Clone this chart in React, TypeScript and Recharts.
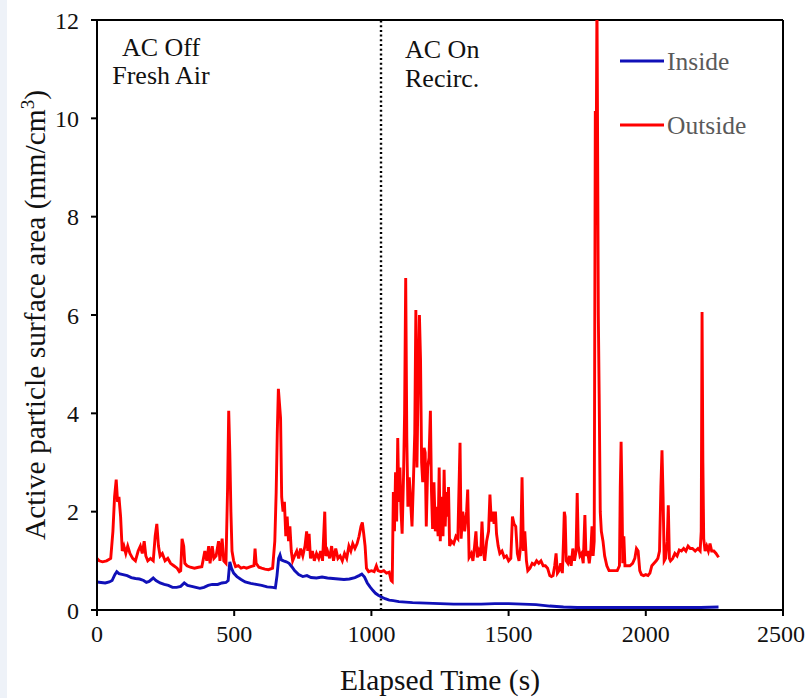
import { LineChart, Line, XAxis, YAxis, ReferenceLine, Legend, Label } from "recharts";

// [elapsed time (s), active surface area (mm/cm3)]
const outside: [number, number][] = [
  [0, 1.05], [8, 1.0], [20, 0.98], [35, 1.0], [50, 1.05], [58, 1.6], [64, 2.3], [70, 2.65], [75, 2.2], [80, 2.3],
  [86, 1.9], [92, 1.2], [98, 1.3], [105, 1.15], [112, 1.3], [120, 1.15], [130, 1.05], [140, 1.0], [150, 1.2], [158, 1.3],
  [165, 1.15], [172, 1.4], [178, 1.1], [185, 1.0], [195, 1.05], [205, 1.0], [212, 1.5], [218, 1.75], [224, 1.3], [230, 1.1],
  [238, 1.15], [248, 1.0], [258, 1.05], [268, 0.95], [280, 0.9], [292, 0.85], [300, 0.78], [305, 0.8], [310, 1.45], [316, 1.3],
  [320, 0.95], [328, 0.9], [340, 0.87], [355, 0.85], [370, 0.87], [382, 0.88], [388, 1.05], [393, 1.2], [400, 1.0], [407, 1.3],
  [412, 0.95], [420, 1.3], [426, 1.05], [434, 1.1], [443, 1.4], [448, 1.0], [456, 1.45], [462, 1.0], [470, 0.95], [476, 2.5],
  [480, 4.05], [484, 3.2], [488, 2.0], [492, 1.2], [498, 1.0], [505, 0.88], [515, 0.9], [525, 0.85], [535, 0.87], [545, 0.85],
  [560, 0.88], [572, 0.9], [576, 1.25], [580, 0.95], [590, 0.87], [600, 0.85], [612, 0.83], [625, 0.82], [640, 0.85], [648, 1.4],
  [653, 2.4], [657, 3.6], [661, 4.5], [665, 4.2], [669, 3.9], [673, 2.3], [678, 2.0], [683, 2.2], [688, 1.5], [693, 1.9],
  [698, 1.4], [703, 1.7], [708, 1.2], [713, 1.0], [720, 1.1], [728, 1.2], [735, 1.05], [742, 1.25], [750, 1.1], [758, 1.3],
  [764, 1.6], [768, 1.2], [773, 1.55], [778, 1.05], [785, 1.2], [792, 1.0], [800, 1.15], [808, 1.05], [815, 1.2], [822, 1.0],
  [830, 2.0], [834, 1.1], [840, 1.2], [848, 1.05], [855, 1.3], [862, 1.0], [870, 1.25], [878, 1.05], [886, 1.1], [894, 1.0],
  [902, 1.15], [910, 1.05], [918, 1.3], [925, 1.2], [932, 1.35], [940, 1.25], [948, 1.35], [955, 1.5], [962, 1.7], [967, 1.78],
  [972, 1.55], [977, 1.3], [982, 0.85], [990, 0.78], [1000, 0.8], [1010, 0.78], [1018, 0.9], [1024, 0.8], [1035, 0.78], [1045, 0.8],
  [1055, 0.75], [1065, 0.77], [1072, 0.6], [1076, 0.58], [1080, 2.4], [1084, 1.6], [1088, 2.8], [1092, 1.8], [1096, 3.5], [1100, 2.2],
  [1104, 2.9], [1108, 2.0], [1112, 1.55], [1117, 2.7], [1121, 4.0], [1125, 6.75], [1129, 3.5], [1133, 2.1], [1138, 2.7], [1143, 2.2],
  [1148, 1.7], [1153, 2.6], [1158, 3.6], [1162, 6.1], [1166, 2.9], [1170, 4.5], [1175, 6.0], [1179, 5.1], [1183, 3.0], [1187, 2.6],
  [1192, 3.3], [1196, 3.2], [1200, 1.7], [1205, 2.9], [1210, 3.1], [1215, 4.05], [1219, 2.4], [1223, 1.65], [1228, 2.6], [1233, 1.6],
  [1238, 2.1], [1243, 1.5], [1247, 2.9], [1251, 1.4], [1256, 2.3], [1261, 1.5], [1265, 2.85], [1269, 1.7], [1273, 2.4], [1277, 1.9],
  [1281, 2.5], [1285, 1.3], [1292, 1.4], [1300, 1.35], [1308, 1.5], [1315, 1.45], [1323, 3.4], [1327, 1.45], [1333, 2.0], [1340, 1.6],
  [1347, 2.0], [1351, 2.45], [1356, 1.07], [1364, 1.15], [1370, 1.0], [1376, 1.3], [1381, 1.6], [1386, 1.07], [1392, 1.2], [1398, 1.1],
  [1403, 1.8], [1408, 1.2], [1413, 1.0], [1420, 1.4], [1427, 1.6], [1432, 2.35], [1437, 1.8], [1442, 2.0], [1447, 1.75], [1452, 2.0],
  [1456, 1.55], [1462, 1.3], [1468, 1.15], [1476, 1.2], [1484, 1.07], [1492, 1.1], [1500, 1.0], [1508, 1.05], [1514, 1.9], [1520, 1.75],
  [1526, 1.7], [1532, 1.15], [1538, 1.0], [1544, 1.3], [1549, 2.7], [1554, 1.2], [1559, 1.6], [1565, 1.0], [1570, 0.8], [1578, 0.85],
  [1586, 0.95], [1594, 0.92], [1602, 1.0], [1610, 0.95], [1618, 1.0], [1626, 0.9], [1634, 0.9], [1642, 0.85], [1650, 0.7], [1656, 0.68],
  [1662, 0.7], [1668, 0.9], [1673, 1.15], [1678, 0.75], [1684, 0.8], [1690, 0.95], [1696, 0.75], [1700, 1.4], [1703, 2.0], [1706, 1.9],
  [1710, 1.0], [1716, 0.95], [1722, 1.1], [1728, 0.9], [1734, 1.25], [1740, 1.0], [1746, 1.2], [1750, 2.38], [1754, 1.3], [1760, 1.1],
  [1766, 1.15], [1772, 0.95], [1778, 1.93], [1782, 1.1], [1788, 1.2], [1794, 0.95], [1800, 1.25], [1804, 1.7], [1808, 1.1], [1812, 1.4],
  [1816, 10.15], [1820, 10.1], [1822, 12.4], [1824, 10.0], [1827, 6.0], [1830, 4.4], [1834, 2.0], [1838, 1.6], [1844, 1.4], [1850, 1.1],
  [1858, 0.9], [1866, 0.8], [1876, 0.8], [1886, 0.8], [1896, 0.8], [1904, 0.9], [1907, 2.5], [1910, 3.42], [1913, 2.4], [1916, 0.95],
  [1920, 1.5], [1924, 0.9], [1932, 0.9], [1942, 0.9], [1952, 0.95], [1960, 1.05], [1966, 1.25], [1972, 1.2], [1978, 0.8], [1984, 0.72],
  [1992, 0.7], [2000, 0.72], [2008, 0.7], [2015, 0.75], [2022, 0.9], [2030, 0.95], [2038, 1.0], [2044, 1.05], [2050, 1.2], [2055, 2.5],
  [2059, 3.25], [2063, 2.3], [2067, 1.0], [2072, 1.05], [2078, 1.4], [2082, 2.13], [2086, 1.05], [2090, 1.0], [2098, 1.05], [2106, 1.15],
  [2114, 1.1], [2122, 1.22], [2130, 1.2], [2138, 1.25], [2146, 1.2], [2154, 1.3], [2162, 1.25], [2170, 1.25], [2180, 1.2], [2190, 1.25],
  [2198, 1.2], [2202, 1.6], [2205, 6.06], [2208, 3.0], [2211, 1.45], [2216, 1.2], [2222, 1.3], [2228, 1.2], [2234, 1.35], [2240, 1.2],
  [2248, 1.2], [2256, 1.15], [2262, 1.1], [2265, 1.07],
];

const inside: [number, number][] = [
  [0, 0.57], [15, 0.56], [30, 0.55], [45, 0.57], [55, 0.6], [65, 0.72], [72, 0.78], [80, 0.74], [95, 0.72], [110, 0.7],
  [125, 0.66], [140, 0.64], [155, 0.63], [170, 0.6], [180, 0.56], [190, 0.58], [205, 0.65], [215, 0.6], [230, 0.55], [245, 0.52],
  [260, 0.5], [275, 0.46], [290, 0.46], [305, 0.48], [318, 0.55], [330, 0.5], [345, 0.48], [360, 0.46], [375, 0.44], [390, 0.46],
  [405, 0.5], [420, 0.52], [440, 0.52], [455, 0.55], [470, 0.56], [478, 0.6], [484, 0.98], [490, 0.85], [498, 0.75], [510, 0.68],
  [525, 0.62], [540, 0.57], [560, 0.54], [580, 0.52], [600, 0.5], [620, 0.47], [640, 0.46], [650, 0.45], [656, 0.7], [662, 1.05],
  [667, 1.12], [672, 1.02], [680, 1.0], [690, 0.98], [700, 0.95], [710, 0.88], [720, 0.8], [735, 0.72], [750, 0.68], [765, 0.7],
  [780, 0.66], [800, 0.65], [820, 0.67], [840, 0.65], [860, 0.64], [880, 0.63], [900, 0.62], [920, 0.63], [940, 0.66], [955, 0.7],
  [965, 0.73], [975, 0.67], [985, 0.55], [995, 0.47], [1005, 0.4], [1015, 0.34], [1025, 0.3], [1035, 0.27], [1050, 0.23], [1065, 0.2],
  [1080, 0.19], [1100, 0.17], [1125, 0.16], [1150, 0.15], [1200, 0.14], [1250, 0.13], [1300, 0.12], [1350, 0.12], [1400, 0.12], [1450, 0.13],
  [1500, 0.13], [1550, 0.12], [1600, 0.11], [1650, 0.08], [1700, 0.06], [1750, 0.05], [1800, 0.05], [1850, 0.05], [1900, 0.05], [1950, 0.05],
  [2000, 0.05], [2050, 0.05], [2100, 0.05], [2150, 0.05], [2200, 0.05], [2265, 0.06],
];

const xTicks = [0, 500, 1000, 1500, 2000, 2500];
const yTicks = [0, 2, 4, 6, 8, 10, 12];
const switchTime = 1035;

const outsideData = outside.map(([t, v]) => ({ t, v }));
const insideData = inside.map(([t, v]) => ({ t, v }));

const serif = '"Times New Roman", "Liberation Serif", Times, serif';
const tickStyle = { fill: "#111", fontSize: 24, fontFamily: serif };

function YTitle(props: any) {
  const { viewBox } = props;
  const x = 45;
  const y = viewBox.y + viewBox.height / 2;
  return (
    <text x={x} y={y} transform={`rotate(-90 ${x} ${y})`} textAnchor="middle"
      style={{ fontSize: 29.5, fontFamily: serif, fill: "#111" }}>
      Active particle surface area (mm/cm<tspan style={{ fontSize: 19 }} dy={-11}>3</tspan><tspan dy={11}>)</tspan>
    </text>
  );
}

function XTitle(props: any) {
  const { viewBox } = props;
  return (
    <text x={viewBox.x + viewBox.width / 2} y={690} textAnchor="middle"
      style={{ fontSize: 29.5, fontFamily: serif, fill: "#111" }}>
      Elapsed Time (s)
    </text>
  );
}

function PhaseText(props: any) {
  const { viewBox } = props;
  const x = viewBox.x;
  const y = viewBox.y;
  const st = { fontSize: 26, fontFamily: serif, fill: "#111" };
  return (
    <g>
      <text x={x - 220} y={y + 36} textAnchor="middle" style={st}>AC Off</text>
      <text x={x - 220} y={y + 64} textAnchor="middle" style={st}>Fresh Air</text>
      <text x={x + 24} y={y + 38} style={st}>AC On</text>
      <text x={x + 24} y={y + 67} style={st}>Recirc.</text>
    </g>
  );
}

function LegendBox() {
  const rows = [
    { name: "Inside", color: "#1010b8" },
    { name: "Outside", color: "#ff0000" },
  ];
  return (
    <svg width={170} height={100}>
      {rows.map((r, i) => (
        <g key={r.name}>
          <line x1={0} x2={44} y1={17 + i * 64} y2={17 + i * 64} stroke={r.color} strokeWidth={3} />
          <text x={47} y={26 + i * 64} style={{ fontSize: 25.5, fontFamily: serif, fill: "#5a5a5a" }}>{r.name}</text>
        </g>
      ))}
    </svg>
  );
}

export default function App() {
  return (
    <div style={{ position: "relative", width: 805, height: 698, fontFamily: serif, background: "linear-gradient(to right, #eef2f8 0 7px, #fff 7px)" }}>
      <style>{"body{margin:0}"}</style>
      <LineChart width={805} height={698} margin={{ top: 20, right: 22, bottom: 0, left: 0 }} style={{ fontFamily: serif }}>
        <XAxis type="number" dataKey="t" domain={[0, 2500]} ticks={xTicks} allowDataOverflow
          height={88} tick={tickStyle} tickSize={6} tickMargin={9}
          axisLine={{ stroke: "#000", strokeWidth: 2 }} tickLine={{ stroke: "#000", strokeWidth: 2 }}>
          <Label content={XTitle} />
        </XAxis>
        <YAxis type="number" domain={[0, 12]} ticks={yTicks} allowDataOverflow
          width={97} tick={tickStyle} tickSize={6} tickMargin={12}
          axisLine={{ stroke: "#000", strokeWidth: 2 }} tickLine={{ stroke: "#000", strokeWidth: 2 }}>
          <Label content={YTitle} />
        </YAxis>
        <ReferenceLine y={12} stroke="#000" strokeWidth={2} />
        <ReferenceLine x={2500} stroke="#000" strokeWidth={2} />
        <ReferenceLine x={switchTime} stroke="#000" strokeWidth={2.4} strokeDasharray="2 2.7">
          <Label content={PhaseText} />
        </ReferenceLine>
        <Line data={outsideData} dataKey="v" name="Outside" type="linear" stroke="#ff0000"
          strokeWidth={2.9} dot={false} isAnimationActive={false} />
        <Line data={insideData} dataKey="v" name="Inside" type="linear" stroke="#1010b8"
          strokeWidth={2.9} dot={false} isAnimationActive={false} />
        <Legend layout="horizontal" verticalAlign="middle" align="center" content={LegendBox}
          wrapperStyle={{ top: 44, left: 620, width: 170, height: 100 }} />
      </LineChart>
    </div>
  );
}
